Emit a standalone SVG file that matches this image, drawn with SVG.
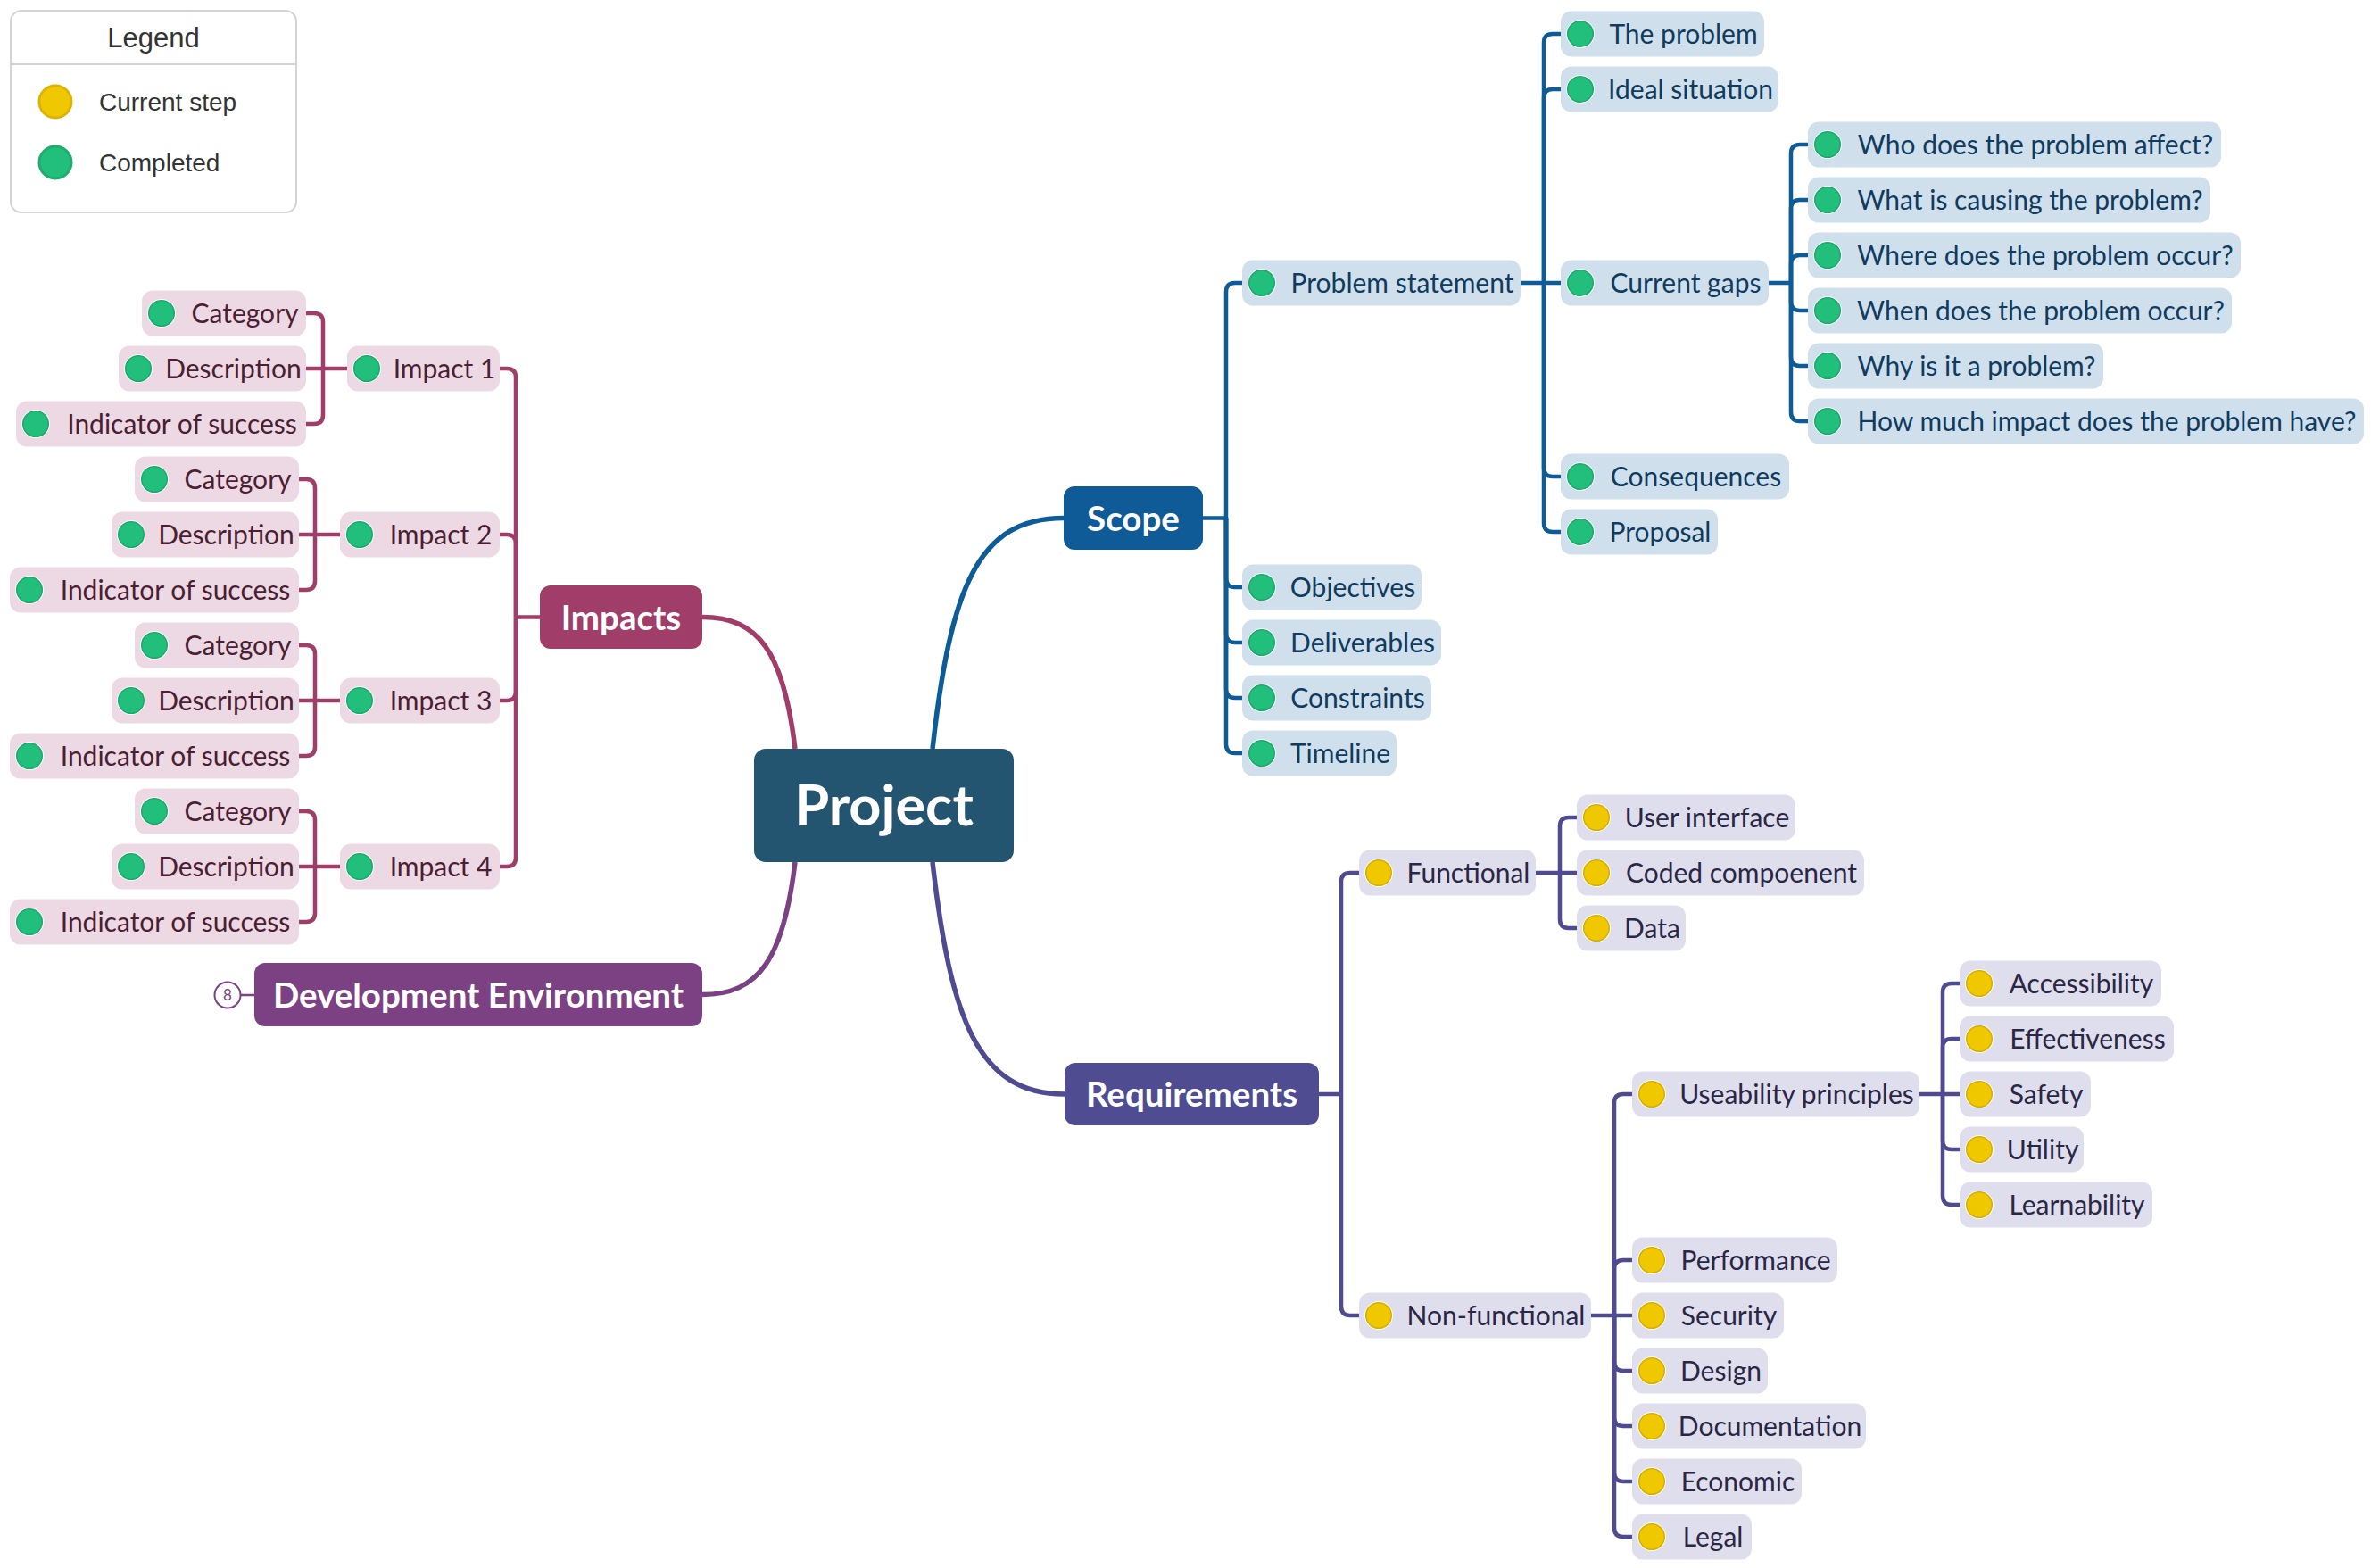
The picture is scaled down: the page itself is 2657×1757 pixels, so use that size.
<svg xmlns="http://www.w3.org/2000/svg" xmlns:xlink="http://www.w3.org/1999/xlink" width="2657" height="1757" viewBox="0 0 2657 1757">
<style>
.t{font-family:Lato,"Open Sans","DejaVu Sans",sans-serif;font-size:30px;text-anchor:middle}
.mt{font-family:Lato,"Open Sans","DejaVu Sans",sans-serif;font-weight:700;fill:#fff;text-anchor:middle}
.lg{font-family:"Liberation Sans",Arial,sans-serif;fill:#333}
.nb{fill:#D0DFEC}.np{fill:#EDD9E3}.nl{fill:#DFDEEC}
.tb{fill:#0F3B5F}.tp{fill:#4B1E33}.tl{fill:#2A2646}
.cb{fill:none;stroke:#0E5C97;stroke-width:4.5}
.cp{fill:none;stroke:#A03D68;stroke-width:4.5}
.cl{fill:none;stroke:#4F4B91;stroke-width:4.5}
</style>
<defs>
<g id="dg"><circle r="16" fill="#fff"/><circle r="14.3" fill="#21BF7B" stroke="#1DAA6D" stroke-width="1.5"/></g>
<g id="dy"><circle r="16" fill="#fff"/><circle r="14.3" fill="#F0C800" stroke="#D8AE00" stroke-width="1.5"/></g>
</defs>
<rect width="2657" height="1757" fill="#fff"/>

<g id="legend">
<rect x="12" y="12" width="320" height="226" rx="12" fill="#fff" stroke="#D3D3D3" stroke-width="2"/>
<line x1="12" y1="72" x2="332" y2="72" stroke="#D3D3D3" stroke-width="2"/>
<text class="lg" x="172" y="53" font-size="31" text-anchor="middle">Legend</text>
<circle cx="62" cy="114" r="18" fill="#F0C800" stroke="#DDB300" stroke-width="3"/>
<text class="lg" x="111" y="124" font-size="28">Current step</text>
<circle cx="62" cy="182" r="18" fill="#21BF7B" stroke="#1DAE6E" stroke-width="3"/>
<text class="lg" x="111" y="192" font-size="28">Completed</text>
</g>

<g id="connectors">
<path d="M1045,839 C1065,660 1095,580.5 1192,580.5" fill="none" stroke="#0E5C97" stroke-width="5.5"/>
<path d="M891,839 C878,730 850,691.5 787,691.5" fill="none" stroke="#A03D68" stroke-width="5.5"/>
<path d="M891,966 C878,1075 850,1114.5 787,1114.5" fill="none" stroke="#7B4283" stroke-width="5.5"/>
<path d="M1045,966 C1065,1140 1095,1226 1193,1226" fill="none" stroke="#4F4B91" stroke-width="5.5"/>
<path d="M270,1115 H285" stroke="#7B4283" stroke-width="2.5"/>

<path class="cb" d="M1348,580.5 H1374 V327 Q1374,317 1384,317 H1392"/>
<path class="cb" d="M1374,580.5 V648 Q1374,658 1384,658 H1392"/>
<path class="cb" d="M1374,580.5 V710 Q1374,720 1384,720 H1392"/>
<path class="cb" d="M1374,580.5 V772 Q1374,782 1384,782 H1392"/>
<path class="cb" d="M1374,580.5 V834 Q1374,844 1384,844 H1392"/>

<path class="cb" d="M1704,317 H1749"/>
<path class="cb" d="M1730,317 V48 Q1730,38 1740,38 H1749"/>
<path class="cb" d="M1730,317 V110 Q1730,100 1740,100 H1749"/>
<path class="cb" d="M1730,317 V524 Q1730,534 1740,534 H1749"/>
<path class="cb" d="M1730,317 V586 Q1730,596 1740,596 H1749"/>

<path class="cb" d="M1982,317 H2007"/>
<path class="cb" d="M2007,317 V172 Q2007,162 2017,162 H2026"/>
<path class="cb" d="M2007,317 V234 Q2007,224 2017,224 H2026"/>
<path class="cb" d="M2007,317 V296 Q2007,286 2017,286 H2026"/>
<path class="cb" d="M2007,317 V338 Q2007,348 2017,348 H2026"/>
<path class="cb" d="M2007,317 V400 Q2007,410 2017,410 H2026"/>
<path class="cb" d="M2007,317 V462 Q2007,472 2017,472 H2026"/>

<path class="cp" d="M605,691.5 H578"/>
<path class="cp" d="M578,691.5 V423 Q578,413 568,413 H560"/>
<path class="cp" d="M578,691.5 V609 Q578,599 568,599 H560"/>
<path class="cp" d="M578,691.5 V775 Q578,785 568,785 H560"/>
<path class="cp" d="M578,691.5 V961 Q578,971 568,971 H560"/>

<path class="cp" d="M389,413 H343"/>
<path class="cp" d="M362,413 V361 Q362,351 352,351 H343"/>
<path class="cp" d="M362,413 V465 Q362,475 352,475 H343"/>
<path class="cp" d="M381,599 H335"/>
<path class="cp" d="M353,599 V547 Q353,537 343,537 H335"/>
<path class="cp" d="M353,599 V651 Q353,661 343,661 H335"/>
<path class="cp" d="M381,785 H335"/>
<path class="cp" d="M353,785 V733 Q353,723 343,723 H335"/>
<path class="cp" d="M353,785 V837 Q353,847 343,847 H335"/>
<path class="cp" d="M381,971 H335"/>
<path class="cp" d="M353,971 V919 Q353,909 343,909 H335"/>
<path class="cp" d="M353,971 V1023 Q353,1033 343,1033 H335"/>

<path class="cl" d="M1478,1226 H1503"/>
<path class="cl" d="M1503,1226 V988 Q1503,978 1513,978 H1523"/>
<path class="cl" d="M1503,1226 V1464 Q1503,1474 1513,1474 H1523"/>
<path class="cl" d="M1721,978 H1767"/>
<path class="cl" d="M1748,978 V926 Q1748,916 1758,916 H1767"/>
<path class="cl" d="M1748,978 V1030 Q1748,1040 1758,1040 H1767"/>
<path class="cl" d="M1783,1474 H1829"/>
<path class="cl" d="M1809,1474 V1236 Q1809,1226 1819,1226 H1829"/>
<path class="cl" d="M1809,1474 V1422 Q1809,1412 1819,1412 H1829"/>
<path class="cl" d="M1809,1474 V1526 Q1809,1536 1819,1536 H1829"/>
<path class="cl" d="M1809,1474 V1588 Q1809,1598 1819,1598 H1829"/>
<path class="cl" d="M1809,1474 V1650 Q1809,1660 1819,1660 H1829"/>
<path class="cl" d="M1809,1474 V1712 Q1809,1722 1819,1722 H1829"/>
<path class="cl" d="M2151,1226 H2196"/>
<path class="cl" d="M2177,1226 V1112 Q2177,1102 2187,1102 H2196"/>
<path class="cl" d="M2177,1226 V1174 Q2177,1164 2187,1164 H2196"/>
<path class="cl" d="M2177,1226 V1278 Q2177,1288 2187,1288 H2196"/>
<path class="cl" d="M2177,1226 V1340 Q2177,1350 2187,1350 H2196"/>
</g>

<g id="project"><rect x="845" y="839" width="291" height="127" rx="13" fill="#245570"/><text class="mt" x="990.5" y="925" font-size="63">Project</text></g>
<g id="scope"><rect x="1192" y="545" width="156" height="71" rx="12" fill="#0E5B97"/><text class="mt" x="1270" y="594.5" font-size="38.5">Scope</text></g>
<g id="impacts"><rect x="605" y="656" width="182" height="71" rx="12" fill="#A13D69"/><text class="mt" x="696" y="705.5" font-size="38.5">Impacts</text></g>
<g id="devenv"><rect x="285" y="1079" width="502" height="71" rx="12" fill="#7C4183"/><text class="mt" x="536" y="1128.5" font-size="38.5">Development Environment</text>
<circle cx="255" cy="1115" r="14.5" fill="#fff" stroke="#7B4283" stroke-width="2"/><text x="255" y="1121" font-family="Lato,sans-serif" font-size="17" fill="#7B4283" text-anchor="middle">8</text></g>
<g id="requirements"><rect x="1193" y="1191" width="285" height="70" rx="12" fill="#504C92"/><text class="mt" x="1335.5" y="1240" font-size="38.5">Requirements</text></g>

<!-- Scope side -->
<g id="n-problem-statement"><rect class="nb" x="1392" y="291.5" width="312" height="51" rx="12"/><use xlink:href="#dg" x="1414" y="317"/><text class="t tb" x="1571.5" y="327.5">Problem statement</text></g>
<g id="n-objectives"><rect class="nb" x="1392" y="632.5" width="201" height="51" rx="12"/><use xlink:href="#dg" x="1414" y="658"/><text class="t tb" x="1516" y="668.5">Objectives</text></g>
<g id="n-deliverables"><rect class="nb" x="1392" y="694.5" width="223" height="51" rx="12"/><use xlink:href="#dg" x="1414" y="720"/><text class="t tb" x="1527" y="730.5">Deliverables</text></g>
<g id="n-constraints"><rect class="nb" x="1392" y="756.5" width="212" height="51" rx="12"/><use xlink:href="#dg" x="1414" y="782"/><text class="t tb" x="1521.5" y="792.5">Constraints</text></g>
<g id="n-timeline"><rect class="nb" x="1392" y="818.5" width="173" height="51" rx="12"/><use xlink:href="#dg" x="1414" y="844"/><text class="t tb" x="1502" y="854.5">Timeline</text></g>
<g id="n-the-problem"><rect class="nb" x="1749" y="12.5" width="228" height="51" rx="12"/><use xlink:href="#dg" x="1771" y="38"/><text class="t tb" x="1886.5" y="48.5">The problem</text></g>
<g id="n-ideal"><rect class="nb" x="1749" y="74.5" width="244" height="51" rx="12"/><use xlink:href="#dg" x="1771" y="100"/><text class="t tb" x="1894.5" y="110.5">Ideal situation</text></g>
<g id="n-current-gaps"><rect class="nb" x="1749" y="291.5" width="233" height="51" rx="12"/><use xlink:href="#dg" x="1771" y="317"/><text class="t tb" x="1889" y="327.5">Current gaps</text></g>
<g id="n-consequences"><rect class="nb" x="1749" y="508.5" width="256" height="51" rx="12"/><use xlink:href="#dg" x="1771" y="534"/><text class="t tb" x="1900.5" y="544.5">Consequences</text></g>
<g id="n-proposal"><rect class="nb" x="1749" y="570.5" width="176" height="51" rx="12"/><use xlink:href="#dg" x="1771" y="596"/><text class="t tb" x="1860.5" y="606.5">Proposal</text></g>
<g id="n-who"><rect class="nb" x="2026" y="136.5" width="463" height="51" rx="12"/><use xlink:href="#dg" x="2048" y="162"/><text class="t tb" x="2281" y="172.5">Who does the problem affect?</text></g>
<g id="n-what"><rect class="nb" x="2026" y="198.5" width="451" height="51" rx="12"/><use xlink:href="#dg" x="2048" y="224"/><text class="t tb" x="2275" y="234.5">What is causing the problem?</text></g>
<g id="n-where"><rect class="nb" x="2026" y="260.5" width="485" height="51" rx="12"/><use xlink:href="#dg" x="2048" y="286"/><text class="t tb" x="2292" y="296.5">Where does the problem occur?</text></g>
<g id="n-when"><rect class="nb" x="2026" y="322.5" width="475" height="51" rx="12"/><use xlink:href="#dg" x="2048" y="348"/><text class="t tb" x="2287" y="358.5">When does the problem occur?</text></g>
<g id="n-why"><rect class="nb" x="2026" y="384.5" width="331" height="51" rx="12"/><use xlink:href="#dg" x="2048" y="410"/><text class="t tb" x="2215" y="420.5">Why is it a problem?</text></g>
<g id="n-how"><rect class="nb" x="2026" y="446.5" width="623" height="51" rx="12"/><use xlink:href="#dg" x="2048" y="472"/><text class="t tb" x="2361" y="482.5">How much impact does the problem have?</text></g>

<!-- Impacts side -->
<g id="n-impact1"><rect class="np" x="389" y="387.5" width="171" height="51" rx="12"/><use xlink:href="#dg" x="411" y="413"/><text class="t tp" x="498" y="423.5">Impact 1</text></g>
<g id="n-impact2"><rect class="np" x="381" y="573.5" width="179" height="51" rx="12"/><use xlink:href="#dg" x="403" y="599"/><text class="t tp" x="494" y="609.5">Impact 2</text></g>
<g id="n-impact3"><rect class="np" x="381" y="759.5" width="179" height="51" rx="12"/><use xlink:href="#dg" x="403" y="785"/><text class="t tp" x="494" y="795.5">Impact 3</text></g>
<g id="n-impact4"><rect class="np" x="381" y="945.5" width="179" height="51" rx="12"/><use xlink:href="#dg" x="403" y="971"/><text class="t tp" x="494" y="981.5">Impact 4</text></g>

<g id="n-i1-cat"><rect class="np" x="159" y="325.5" width="184" height="51" rx="12"/><use xlink:href="#dg" x="181" y="351"/><text class="t tp" x="274.5" y="361.5">Category</text></g>
<g id="n-i1-desc"><rect class="np" x="133" y="387.5" width="210" height="51" rx="12"/><use xlink:href="#dg" x="155" y="413"/><text class="t tp" x="261.5" y="423.5">Description</text></g>
<g id="n-i1-ind"><rect class="np" x="18" y="449.5" width="325" height="51" rx="12"/><use xlink:href="#dg" x="40" y="475"/><text class="t tp" x="204" y="485.5">Indicator of success</text></g>

<g id="n-i2-cat"><rect class="np" x="151" y="511.5" width="184" height="51" rx="12"/><use xlink:href="#dg" x="173" y="537"/><text class="t tp" x="266.5" y="547.5">Category</text></g>
<g id="n-i2-desc"><rect class="np" x="125" y="573.5" width="210" height="51" rx="12"/><use xlink:href="#dg" x="147" y="599"/><text class="t tp" x="253.5" y="609.5">Description</text></g>
<g id="n-i2-ind"><rect class="np" x="11" y="635.5" width="324" height="51" rx="12"/><use xlink:href="#dg" x="33" y="661"/><text class="t tp" x="196.5" y="671.5">Indicator of success</text></g>

<g id="n-i3-cat"><rect class="np" x="151" y="697.5" width="184" height="51" rx="12"/><use xlink:href="#dg" x="173" y="723"/><text class="t tp" x="266.5" y="733.5">Category</text></g>
<g id="n-i3-desc"><rect class="np" x="125" y="759.5" width="210" height="51" rx="12"/><use xlink:href="#dg" x="147" y="785"/><text class="t tp" x="253.5" y="795.5">Description</text></g>
<g id="n-i3-ind"><rect class="np" x="11" y="821.5" width="324" height="51" rx="12"/><use xlink:href="#dg" x="33" y="847"/><text class="t tp" x="196.5" y="857.5">Indicator of success</text></g>

<g id="n-i4-cat"><rect class="np" x="151" y="883.5" width="184" height="51" rx="12"/><use xlink:href="#dg" x="173" y="909"/><text class="t tp" x="266.5" y="919.5">Category</text></g>
<g id="n-i4-desc"><rect class="np" x="125" y="945.5" width="210" height="51" rx="12"/><use xlink:href="#dg" x="147" y="971"/><text class="t tp" x="253.5" y="981.5">Description</text></g>
<g id="n-i4-ind"><rect class="np" x="11" y="1007.5" width="324" height="51" rx="12"/><use xlink:href="#dg" x="33" y="1033"/><text class="t tp" x="196.5" y="1043.5">Indicator of success</text></g>

<!-- Requirements side -->
<g id="n-functional"><rect class="nl" x="1523" y="952.5" width="198" height="51" rx="12"/><use xlink:href="#dy" x="1545" y="978"/><text class="t tl" x="1645.5" y="988.5">Functional</text></g>
<g id="n-nonfunctional"><rect class="nl" x="1523" y="1448.5" width="260" height="51" rx="12"/><use xlink:href="#dy" x="1545" y="1474"/><text class="t tl" x="1676.5" y="1484.5">Non-functional</text></g>
<g id="n-ui"><rect class="nl" x="1767" y="890.5" width="245" height="51" rx="12"/><use xlink:href="#dy" x="1789" y="916"/><text class="t tl" x="1913" y="926.5">User interface</text></g>
<g id="n-coded"><rect class="nl" x="1767" y="952.5" width="322" height="51" rx="12"/><use xlink:href="#dy" x="1789" y="978"/><text class="t tl" x="1951.5" y="988.5">Coded compoenent</text></g>
<g id="n-data"><rect class="nl" x="1767" y="1014.5" width="122" height="51" rx="12"/><use xlink:href="#dy" x="1789" y="1040"/><text class="t tl" x="1851.5" y="1050.5">Data</text></g>
<g id="n-useability"><rect class="nl" x="1829" y="1200.5" width="322" height="51" rx="12"/><use xlink:href="#dy" x="1851" y="1226"/><text class="t tl" x="2013.5" y="1236.5">Useability principles</text></g>
<g id="n-performance"><rect class="nl" x="1829" y="1386.5" width="230" height="51" rx="12"/><use xlink:href="#dy" x="1851" y="1412"/><text class="t tl" x="1967.5" y="1422.5">Performance</text></g>
<g id="n-security"><rect class="nl" x="1829" y="1448.5" width="170" height="51" rx="12"/><use xlink:href="#dy" x="1851" y="1474"/><text class="t tl" x="1937.5" y="1484.5">Security</text></g>
<g id="n-design"><rect class="nl" x="1829" y="1510.5" width="152" height="51" rx="12"/><use xlink:href="#dy" x="1851" y="1536"/><text class="t tl" x="1928.5" y="1546.5">Design</text></g>
<g id="n-documentation"><rect class="nl" x="1829" y="1572.5" width="262" height="51" rx="12"/><use xlink:href="#dy" x="1851" y="1598"/><text class="t tl" x="1983.5" y="1608.5">Documentation</text></g>
<g id="n-economic"><rect class="nl" x="1829" y="1634.5" width="190" height="51" rx="12"/><use xlink:href="#dy" x="1851" y="1660"/><text class="t tl" x="1947.5" y="1670.5">Economic</text></g>
<g id="n-legal"><rect class="nl" x="1829" y="1696.5" width="134" height="51" rx="12"/><use xlink:href="#dy" x="1851" y="1722"/><text class="t tl" x="1919.5" y="1732.5">Legal</text></g>
<g id="n-accessibility"><rect class="nl" x="2196" y="1076.5" width="226" height="51" rx="12"/><use xlink:href="#dy" x="2218" y="1102"/><text class="t tl" x="2332.5" y="1112.5">Accessibility</text></g>
<g id="n-effectiveness"><rect class="nl" x="2196" y="1138.5" width="240" height="51" rx="12"/><use xlink:href="#dy" x="2218" y="1164"/><text class="t tl" x="2339.5" y="1174.5">Effectiveness</text></g>
<g id="n-safety"><rect class="nl" x="2196" y="1200.5" width="147" height="51" rx="12"/><use xlink:href="#dy" x="2218" y="1226"/><text class="t tl" x="2293" y="1236.5">Safety</text></g>
<g id="n-utility"><rect class="nl" x="2196" y="1262.5" width="139" height="51" rx="12"/><use xlink:href="#dy" x="2218" y="1288"/><text class="t tl" x="2289" y="1298.5">Utility</text></g>
<g id="n-learnability"><rect class="nl" x="2196" y="1324.5" width="216" height="51" rx="12"/><use xlink:href="#dy" x="2218" y="1350"/><text class="t tl" x="2327.5" y="1360.5">Learnability</text></g>
</svg>
